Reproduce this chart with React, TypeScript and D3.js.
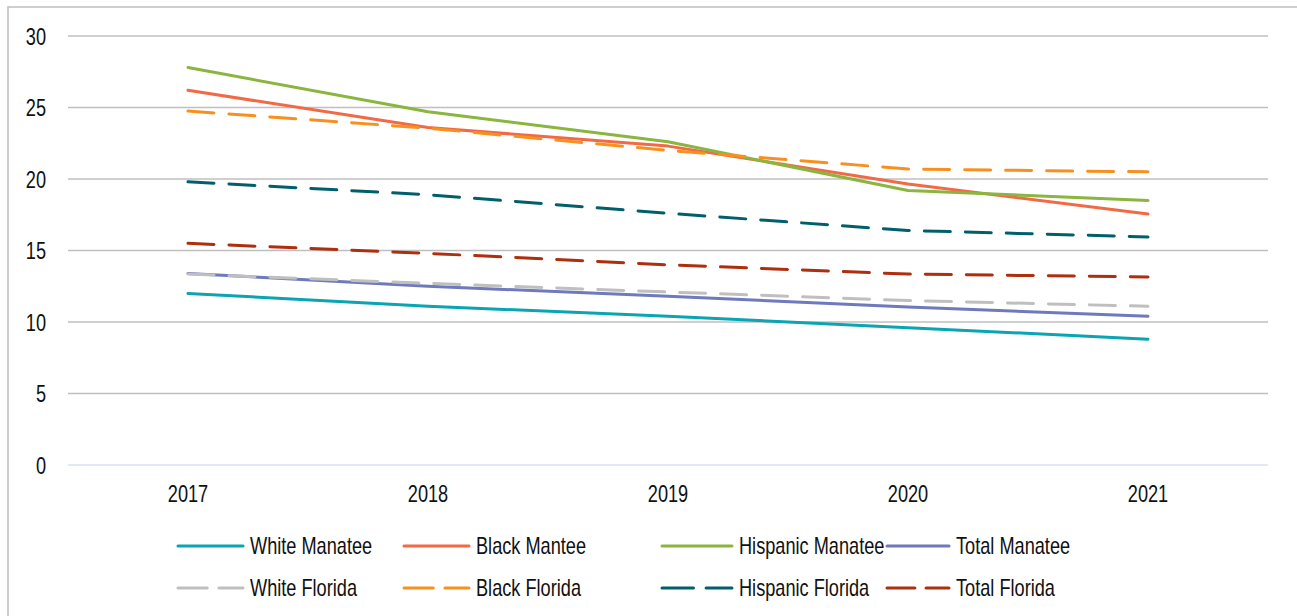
import React from "react";
import * as d3 from "d3";

const years = ["2017", "2018", "2019", "2020", "2021"];
const yTicks = [0, 5, 10, 15, 20, 25, 30];

const seriesNames = [
  "White Manatee",
  "Black Mantee",
  "Hispanic Manatee",
  "Total Manatee",
  "White Florida",
  "Black Florida",
  "Hispanic Florida",
  "Total Florida",
];
const whiteManatee = [12.0, 11.1, 10.4, 9.6, 8.8];
const blackManatee = [26.2, 23.6, 22.3, 19.65, 17.55];
const hispanicManatee = [27.8, 24.7, 22.6, 19.2, 18.5];
const totalManatee = [13.4, 12.5, 11.8, 11.05, 10.4];
const whiteFlorida = [13.35, 12.7, 12.1, 11.5, 11.1];
const blackFlorida = [24.75, 23.55, 22.0, 20.7, 20.5];
const hispanicFlorida = [19.8, 18.9, 17.6, 16.4, 15.95];
const totalFlorida = [15.5, 14.8, 14.0, 13.35, 13.15];
const seriesValues = [
  whiteManatee,
  blackManatee,
  hispanicManatee,
  totalManatee,
  whiteFlorida,
  blackFlorida,
  hispanicFlorida,
  totalFlorida,
];
const seriesColors = [
  "#0ba4b2",
  "#f26a45",
  "#8ab53e",
  "#6f79bd",
  "#bfbfbf",
  "#f7901e",
  "#005f6a",
  "#ae2e0e",
];
const seriesDashed = [false, false, false, false, true, true, true, true];

const legendX = [178, 404, 662, 887];
const legendLineLen = [65, 65, 70, 62];
const legendRowY = [546, 588];

export default function App() {
  const left = 68;
  const right = 1268;
  const top = 36;
  const bottom = 465;
  const x = d3.scalePoint<string>().domain(years).range([left, right]).padding(0.5);
  const y = d3.scaleLinear().domain([0, 30]).range([bottom, top]);
  const line = d3
    .line<number>()
    .x((_, i) => x(years[i]) as number)
    .y((d) => y(d));
  const font = "'Liberation Sans', Arial, sans-serif";
  const dash = "26,15";
  const fs = 23;
  const sx = 0.79;

  return (
    <svg
      width={1297}
      height={616}
      style={{ position: "absolute", left: 0, top: 0, background: "#fff" }}
      fontFamily={font}
    >
      <rect x={8} y={7} width={1400} height={700} fill="#fff" stroke="#bfbfbf" strokeWidth={1.5} />
      {yTicks.map((t) => (
        <g key={t}>
          <line
            x1={left}
            x2={right}
            y1={y(t)}
            y2={y(t)}
            stroke={t === 0 ? "#d9e2f0" : "#bfbfbf"}
            strokeWidth={1.5}
          />
          <text
            transform={`translate(46,${y(t) + 8.5}) scale(${sx},1)`}
            textAnchor="end"
            fontSize={fs}
            fill="#111"
          >
            {t}
          </text>
        </g>
      ))}
      {years.map((yr) => (
        <text
          key={yr}
          transform={`translate(${x(yr)},502) scale(${sx},1)`}
          textAnchor="middle"
          fontSize={fs}
          fill="#111"
        >
          {yr}
        </text>
      ))}
      {seriesValues.map((vals, i) => (
        <path
          key={seriesNames[i]}
          d={line(vals) || ""}
          fill="none"
          stroke={seriesColors[i]}
          strokeWidth={3}
          strokeLinecap="round"
          strokeLinejoin="round"
          strokeDasharray={seriesDashed[i] ? dash : undefined}
        />
      ))}
      {seriesNames.map((name, i) => {
        const col = i % 4;
        const row = Math.floor(i / 4);
        const lx = legendX[col];
        const ly = legendRowY[row];
        const len = legendLineLen[col];
        return (
          <g key={name}>
            {seriesDashed[i] ? (
              <>
                <line x1={lx} x2={lx + len * 0.45} y1={ly} y2={ly} stroke={seriesColors[i]} strokeWidth={3} strokeLinecap="round" />
                <line x1={lx + len * 0.63} x2={lx + len} y1={ly} y2={ly} stroke={seriesColors[i]} strokeWidth={3} strokeLinecap="round" />
              </>
            ) : (
              <line x1={lx} x2={lx + len} y1={ly} y2={ly} stroke={seriesColors[i]} strokeWidth={3} strokeLinecap="round" />
            )}
            <text
              transform={`translate(${lx + len + 7},${ly + 8}) scale(${sx},1)`}
              fontSize={fs}
              fill="#111"
            >
              {name}
            </text>
          </g>
        );
      })}
    </svg>
  );
}
